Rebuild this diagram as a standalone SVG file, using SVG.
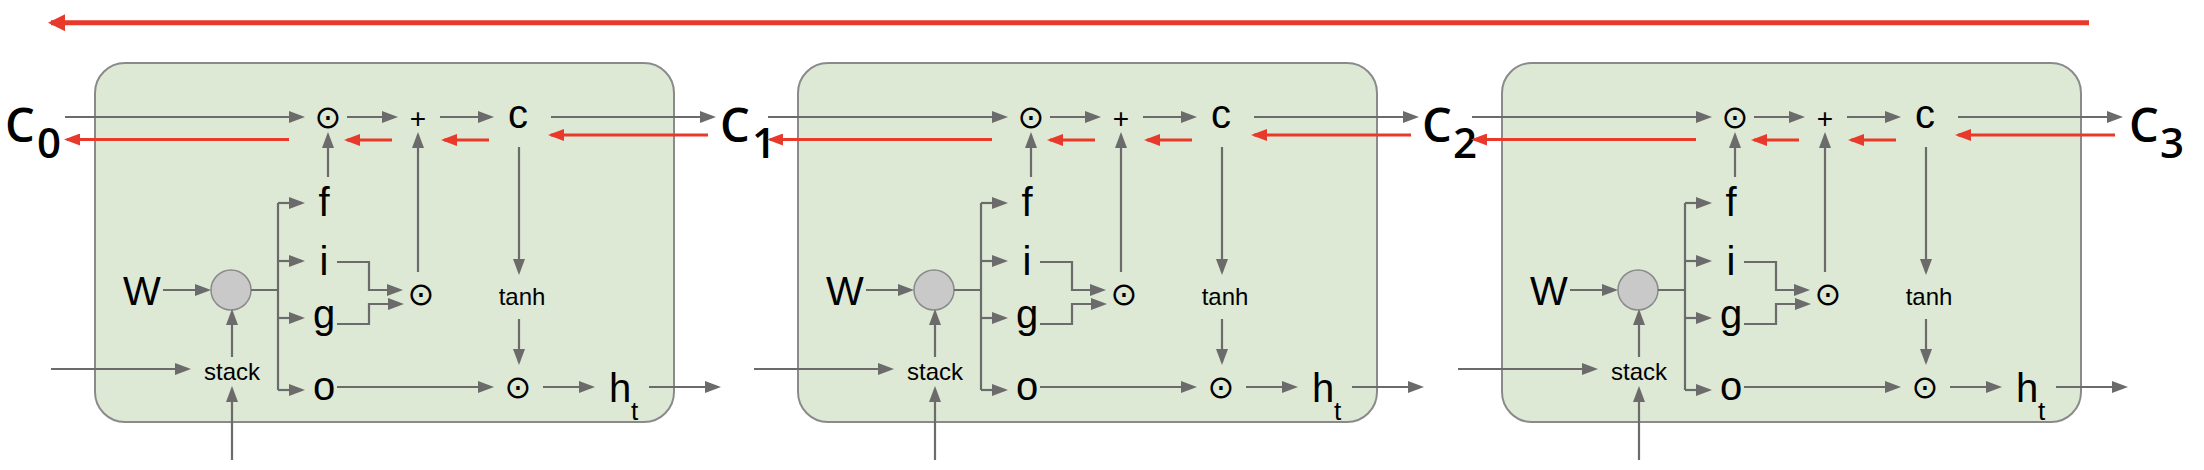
<svg xmlns="http://www.w3.org/2000/svg" width="2204" height="470" viewBox="0 0 2204 470">
<defs>
<style>
.box{fill:#dde8d5;stroke:#8a8a8a;stroke-width:2}
.g{fill:none;stroke:#6b6b6b;stroke-width:2.2;marker-end:url(#ag)}
.gn{fill:none;stroke:#6b6b6b;stroke-width:2.2}
.r{fill:none;stroke:#e8392b;stroke-width:3;marker-end:url(#ar)}
.rt{fill:none;stroke:#e8392b;stroke-width:5;marker-end:url(#art)}
.lbl{font-family:"Liberation Sans",Arial,sans-serif;font-size:40px;fill:#000}
.mid{text-anchor:middle}
.sm{font-family:"Liberation Sans",Arial,sans-serif;font-size:24px;fill:#000}
.sub{font-family:"Liberation Sans",Arial,sans-serif;font-size:26px;fill:#000}
.op{font-family:"DejaVu Sans",sans-serif;font-size:32px;fill:#000;text-anchor:middle}
.plus{font-family:"Liberation Sans",Arial,sans-serif;font-size:28px;fill:#000;text-anchor:middle}
.cl{font-family:"Open Sans","Noto Sans",sans-serif;font-weight:600;fill:#000}
.cb{font-size:47px}
.cs{font-size:42px}
.node{fill:#c9c9c9;stroke:#8a8a8a;stroke-width:1.5}
</style>
<marker id="ag" markerUnits="userSpaceOnUse" markerWidth="16" markerHeight="12" viewBox="0 0 16 12" refX="13" refY="6" orient="auto"><path d="M0,0 L16,6 L0,12 z" fill="#6b6b6b"/></marker>
<marker id="ar" markerUnits="userSpaceOnUse" markerWidth="16" markerHeight="12" viewBox="0 0 16 12" refX="13" refY="6" orient="auto"><path d="M0,0 L16,6 L0,12 z" fill="#e8392b"/></marker>
<marker id="art" markerUnits="userSpaceOnUse" markerWidth="17" markerHeight="17" viewBox="0 0 17 17" refX="14" refY="8.5" orient="auto"><path d="M0,0 L17,8.5 L0,17 z" fill="#e8392b"/></marker>
</defs>

<!-- cell boxes and nodes -->
<g id="cell-1">
<rect class="box" x="95" y="63" width="579" height="359" rx="30"/>
<g id="c1-W"><text class="lbl" x="123" y="305">W</text></g>
<g id="c1-mul"><ellipse class="node" cx="231" cy="290" rx="20" ry="20"/></g>
<g id="c1-stack"><text class="sm mid" x="232" y="380">stack</text></g>
<g id="c1-f"><text class="lbl mid" x="324" y="216">f</text></g>
<g id="c1-i"><text class="lbl mid" x="324" y="275">i</text></g>
<g id="c1-g"><text class="lbl mid" x="324" y="328">g</text></g>
<g id="c1-o"><text class="lbl mid" x="324" y="400">o</text></g>
<g id="c1-fmul"><text class="op" x="328" y="128">⊙</text></g>
<g id="c1-plus"><text class="plus" x="418" y="128">+</text></g>
<g id="c1-c"><text class="lbl" x="508" y="128">c</text></g>
<g id="c1-igmul"><text class="op" x="421" y="305">⊙</text></g>
<g id="c1-tanh"><text class="sm mid" x="522" y="305">tanh</text></g>
<g id="c1-omul"><text class="op" x="518" y="398">⊙</text></g>
<g id="c1-h"><text class="lbl" x="609" y="402">h</text><text class="sub" x="631" y="420">t</text></g>
</g>

<g id="cell-2" transform="translate(703,0)">
<rect class="box" x="95" y="63" width="579" height="359" rx="30"/>
<g id="c2-W"><text class="lbl" x="123" y="305">W</text></g>
<g id="c2-mul"><ellipse class="node" cx="231" cy="290" rx="20" ry="20"/></g>
<g id="c2-stack"><text class="sm mid" x="232" y="380">stack</text></g>
<g id="c2-f"><text class="lbl mid" x="324" y="216">f</text></g>
<g id="c2-i"><text class="lbl mid" x="324" y="275">i</text></g>
<g id="c2-g"><text class="lbl mid" x="324" y="328">g</text></g>
<g id="c2-o"><text class="lbl mid" x="324" y="400">o</text></g>
<g id="c2-fmul"><text class="op" x="328" y="128">⊙</text></g>
<g id="c2-plus"><text class="plus" x="418" y="128">+</text></g>
<g id="c2-c"><text class="lbl" x="508" y="128">c</text></g>
<g id="c2-igmul"><text class="op" x="421" y="305">⊙</text></g>
<g id="c2-tanh"><text class="sm mid" x="522" y="305">tanh</text></g>
<g id="c2-omul"><text class="op" x="518" y="398">⊙</text></g>
<g id="c2-h"><text class="lbl" x="609" y="402">h</text><text class="sub" x="631" y="420">t</text></g>
</g>

<g id="cell-3" transform="translate(1407,0)">
<rect class="box" x="95" y="63" width="579" height="359" rx="30"/>
<g id="c3-W"><text class="lbl" x="123" y="305">W</text></g>
<g id="c3-mul"><ellipse class="node" cx="231" cy="290" rx="20" ry="20"/></g>
<g id="c3-stack"><text class="sm mid" x="232" y="380">stack</text></g>
<g id="c3-f"><text class="lbl mid" x="324" y="216">f</text></g>
<g id="c3-i"><text class="lbl mid" x="324" y="275">i</text></g>
<g id="c3-g"><text class="lbl mid" x="324" y="328">g</text></g>
<g id="c3-o"><text class="lbl mid" x="324" y="400">o</text></g>
<g id="c3-fmul"><text class="op" x="328" y="128">⊙</text></g>
<g id="c3-plus"><text class="plus" x="418" y="128">+</text></g>
<g id="c3-c"><text class="lbl" x="508" y="128">c</text></g>
<g id="c3-igmul"><text class="op" x="421" y="305">⊙</text></g>
<g id="c3-tanh"><text class="sm mid" x="522" y="305">tanh</text></g>
<g id="c3-omul"><text class="op" x="518" y="398">⊙</text></g>
<g id="c3-h"><text class="lbl" x="609" y="402">h</text><text class="sub" x="631" y="420">t</text></g>
</g>

<!-- cell state labels -->
<g id="C0"><text class="cl cb" x="5" y="142">C</text><text class="cl cs" x="37" y="158">0</text></g>
<g id="C1"><text class="cl cb" x="720" y="142">C</text><text class="cl cs" x="752" y="158">1</text></g>
<g id="C2"><text class="cl cb" x="1422" y="142">C</text><text class="cl cs" x="1453" y="158">2</text></g>
<g id="C3"><text class="cl cb" x="2129" y="142">C</text><text class="cl cs" x="2160" y="158">3</text></g>

<!-- connectors -->
<g id="connectors">
<path class="rt" d="M2089,22.7 H51"/>
<g id="conn-1">
<path class="g" d="M65,117 H302"/>
<path class="g" d="M347,117 H395"/>
<path class="g" d="M440,117 H491"/>
<path class="g" d="M551,117 H713"/>
<path class="g" d="M328,177 V135"/>
<path class="g" d="M418,272 V135"/>
<path class="g" d="M519,147 V272"/>
<path class="g" d="M519,319 V362"/>
<path class="g" d="M543,387 H592"/>
<path class="g" d="M649,387 H718"/>
<path class="g" d="M163,290 H208"/>
<path class="g" d="M232,357 V312"/>
<path class="g" d="M51,369 H188"/>
<path class="g" d="M232,460 V389"/>
<path class="gn" d="M251,290 H278 M278,203 V390"/>
<path class="g" d="M278,203 H302"/>
<path class="g" d="M278,261 H302"/>
<path class="g" d="M278,318 H302"/>
<path class="g" d="M278,390 H302"/>
<path class="g" d="M337,262 H369 V290 H400"/>
<path class="g" d="M337,324 H369 V304 H401"/>
<path class="g" d="M337,387 H491"/>
<path class="r" d="M708,135 H551"/>
<path class="r" d="M489,140 H444"/>
<path class="r" d="M392,140 H347"/>
<path class="r" d="M289,139.5 H67"/>
</g>
<g id="conn-2" transform="translate(703,0)">
<path class="g" d="M65,117 H302"/>
<path class="g" d="M347,117 H395"/>
<path class="g" d="M440,117 H491"/>
<path class="g" d="M551,117 H713"/>
<path class="g" d="M328,177 V135"/>
<path class="g" d="M418,272 V135"/>
<path class="g" d="M519,147 V272"/>
<path class="g" d="M519,319 V362"/>
<path class="g" d="M543,387 H592"/>
<path class="g" d="M649,387 H718"/>
<path class="g" d="M163,290 H208"/>
<path class="g" d="M232,357 V312"/>
<path class="g" d="M51,369 H188"/>
<path class="g" d="M232,460 V389"/>
<path class="gn" d="M251,290 H278 M278,203 V390"/>
<path class="g" d="M278,203 H302"/>
<path class="g" d="M278,261 H302"/>
<path class="g" d="M278,318 H302"/>
<path class="g" d="M278,390 H302"/>
<path class="g" d="M337,262 H369 V290 H400"/>
<path class="g" d="M337,324 H369 V304 H401"/>
<path class="g" d="M337,387 H491"/>
<path class="r" d="M708,135 H551"/>
<path class="r" d="M489,140 H444"/>
<path class="r" d="M392,140 H347"/>
<path class="r" d="M289,139.5 H67"/>
</g>
<g id="conn-3" transform="translate(1407,0)">
<path class="g" d="M65,117 H302"/>
<path class="g" d="M347,117 H395"/>
<path class="g" d="M440,117 H491"/>
<path class="g" d="M551,117 H713"/>
<path class="g" d="M328,177 V135"/>
<path class="g" d="M418,272 V135"/>
<path class="g" d="M519,147 V272"/>
<path class="g" d="M519,319 V362"/>
<path class="g" d="M543,387 H592"/>
<path class="g" d="M649,387 H718"/>
<path class="g" d="M163,290 H208"/>
<path class="g" d="M232,357 V312"/>
<path class="g" d="M51,369 H188"/>
<path class="g" d="M232,460 V389"/>
<path class="gn" d="M251,290 H278 M278,203 V390"/>
<path class="g" d="M278,203 H302"/>
<path class="g" d="M278,261 H302"/>
<path class="g" d="M278,318 H302"/>
<path class="g" d="M278,390 H302"/>
<path class="g" d="M337,262 H369 V290 H400"/>
<path class="g" d="M337,324 H369 V304 H401"/>
<path class="g" d="M337,387 H491"/>
<path class="r" d="M708,135 H551"/>
<path class="r" d="M489,140 H444"/>
<path class="r" d="M392,140 H347"/>
<path class="r" d="M289,139.5 H67"/>
</g>
</g>
</svg>
